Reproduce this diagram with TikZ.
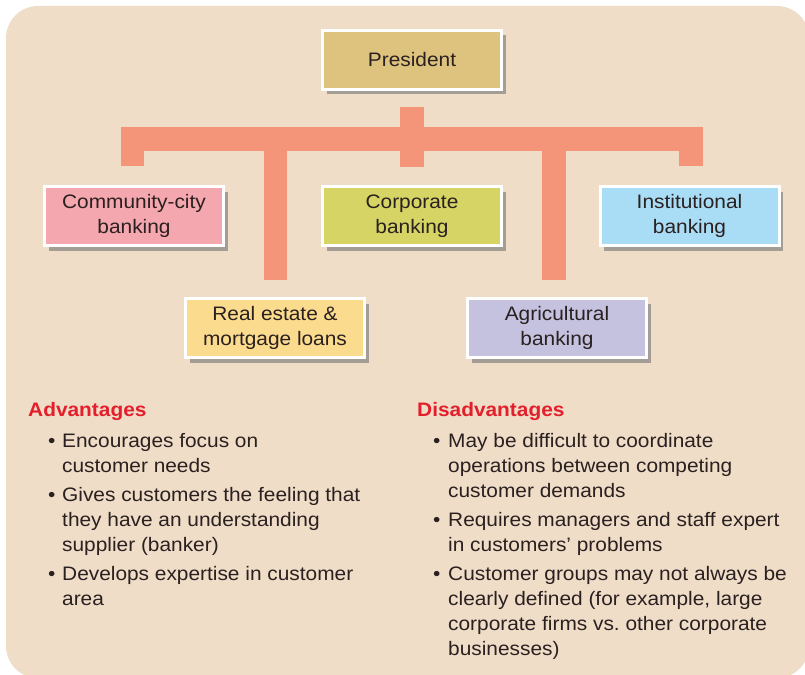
\documentclass[tikz,border=0pt]{standalone}
\usepackage{fontspec}
\setmainfont{Liberation Sans}[FakeStretch=1.07]
\usetikzlibrary{shadows}
\definecolor{bgcol}{HTML}{EFDDC8}
\definecolor{barcol}{HTML}{F4957A}
\definecolor{txtcol}{HTML}{2A2020}
\definecolor{headcol}{HTML}{E41F2C}
\definecolor{cpres}{HTML}{DEC37F}
\definecolor{ccomm}{HTML}{F4A7AE}
\definecolor{ccorp}{HTML}{D5D465}
\definecolor{cinst}{HTML}{A9DDF5}
\definecolor{creal}{HTML}{FBDB8E}
\definecolor{cagri}{HTML}{C5C2E0}
\tikzset{
  orgbox/.style={draw=white, line width=3pt, minimum width=179pt, minimum height=59pt,
    align=center, inner sep=2pt, text=txtcol, font=\fontsize{19.5}{25.5}\selectfont,
    drop shadow={shadow xshift=4pt, shadow yshift=-5pt, fill=black!55, opacity=0.6}},
  bar/.style={draw=barcol, line width=23.5pt, line cap=butt, line join=miter},
  line/.style={anchor=base west, inner sep=0pt, text=txtcol, font=\fontsize{19.5}{25}\selectfont},
  head/.style={anchor=base west, inner sep=0pt, text=headcol, font=\fontsize{19.5}{25}\selectfont\bfseries},
}
\begin{document}
\begin{tikzpicture}[x=1pt,y=-1pt]
\useasboundingbox (0,0) rectangle (805,674);
\begin{scope}
\clip (0,0) rectangle (805,674);
\fill[bgcol, rounded corners=32pt] (6,6) rectangle (809,678);
\end{scope}

% connectors
\coordinate (stemtop) at (412,107);
\coordinate (stembot) at (412,167);
\coordinate (legLb) at (132.5,166);
\coordinate (busL) at (132.5,139);
\coordinate (busR) at (691,139);
\coordinate (legRb) at (691,166);
\coordinate (lleg1t) at (275.5,139);
\coordinate (lleg1b) at (275.5,280);
\coordinate (lleg2t) at (554,139);
\coordinate (lleg2b) at (554,280);
\draw[bar] (legLb) -- (busL) -- (busR) -- (legRb);
\draw[bar] (stemtop) -- (stembot);
\draw[bar] (lleg1t) -- (lleg1b);
\draw[bar] (lleg2t) -- (lleg2b);

% boxes
\node[orgbox, fill=cpres] (pres) at (412,60) {President};
\node[orgbox, fill=ccomm] (comm) at (134,216) {Community-city\\banking};
\node[orgbox, fill=ccorp] (corp) at (412,216) {Corporate\\banking};
\node[orgbox, fill=cinst] (inst) at (689.5,216) {Institutional\\banking};
\node[orgbox, fill=creal] (real) at (275,328) {Real estate \&\\mortgage loans};
\node[orgbox, fill=cagri] (agri) at (557,328) {Agricultural\\banking};

% advantages
\node[head] (advh) at (28,416) {Advantages};
\node[line] (ab1) at (48,447) {•};
\node[line] (a1a) at (62,447) {Encourages focus on};
\node[line] (a1b) at (62,472) {customer needs};
\node[line] (ab2) at (48,501) {•};
\node[line] (a2a) at (62,501) {Gives customers the feeling that};
\node[line] (a2b) at (62,526) {they have an understanding};
\node[line] (a2c) at (62,551) {supplier (banker)};
\node[line] (ab3) at (48,580) {•};
\node[line] (a3a) at (62,580) {Develops expertise in customer};
\node[line] (a3b) at (62,605) {area};

% disadvantages
\node[head] (dish) at (417,416) {Disadvantages};
\node[line] (db1) at (433,447) {•};
\node[line] (d1a) at (448,447) {May be difficult to coordinate};
\node[line] (d1b) at (448,472) {operations between competing};
\node[line] (d1c) at (448,497) {customer demands};
\node[line] (db2) at (433,526) {•};
\node[line] (d2a) at (448,526) {Requires managers and staff expert};
\node[line] (d2b) at (448,551) {in customers’ problems};
\node[line] (db3) at (433,580) {•};
\node[line] (d3a) at (448,580) {Customer groups may not always be};
\node[line] (d3b) at (448,605) {clearly defined (for example, large};
\node[line] (d3c) at (448,630) {corporate firms vs.\ other corporate};
\node[line] (d3d) at (448,655) {businesses)};
\end{tikzpicture}
\end{document}
